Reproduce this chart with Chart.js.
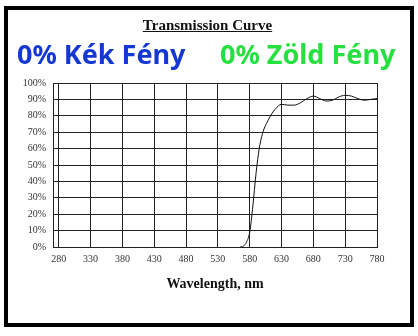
<!DOCTYPE html>
<html>
<head>
<meta charset="utf-8">
<script src="https://cdn.jsdelivr.net/npm/chart.js@4"></script>
<style>
  html, body { margin: 0; padding: 0; background: #fff; }
  body { width: 418px; height: 336px; position: relative; overflow: hidden; }
  #chart { position: absolute; left: 0; top: 0; }
  .frame { position: absolute; left: 4px; top: 6px; width: 410px; height: 321px; box-sizing: border-box; border: 4px solid #000; }
  .title { position: absolute; left: 0; width: 415px; top: 17px; text-align: center; font: bold 15px "Liberation Serif", serif; text-decoration: underline; color: #111; }
  .big { position: absolute; top: 40px; font: bold 27px/27px "Noto Sans", sans-serif; white-space: nowrap; }
  .blue { left: 17px; color: #1638d2; }
  .green { left: 220px; color: #25e03f; }
</style>
</head>
<body>
<canvas id="chart" width="418" height="336"></canvas>
<div class="frame"></div>
<div class="title">Transmission Curve</div>
<div class="big blue">0% Kék Fény</div>
<div class="big green">0% Zöld Fény</div>
<script>
const wavelengths = [565, 570, 575, 580, 585, 590, 595, 600, 610, 620, 630, 640, 650, 660, 670, 680, 690, 700, 710, 720, 730, 740, 750, 760, 770, 780]
const transmission = [0, 0.5, 3, 9, 25, 45, 60, 69, 78, 84, 87, 86.5, 86.5, 88, 90.5, 92, 90.5, 89, 89.5, 91.5, 92.5, 92, 90.5, 89.5, 90, 90.5]
const xTicks = [280, 330, 380, 430, 480, 530, 580, 630, 680, 730, 780]
const yTicks = [0, 10, 20, 30, 40, 50, 60, 70, 80, 90, 100]

let points = wavelengths.map((w, i) => ({ x: w, y: transmission[i] }))

const tickFont = { family: '"Liberation Serif", serif', size: 10 }

new Chart(document.getElementById('chart'), {
    type: 'line',
    data: {
        datasets: [{
            data: points,
            borderColor: '#111',
            borderWidth: 1,
            pointRadius: 0,
            cubicInterpolationMode: 'monotone',
            fill: false,
        }],
    },
    options: {
        responsive: false,
        animation: false,
        events: [],
        layout: { padding: { left: 13, top: 83, right: 41, bottom: 39 } },
        plugins: { legend: { display: false }, tooltip: { enabled: false } },
        scales: {
            x: {
                type: 'linear',
                min: 271,
                max: 780,
                afterBuildTicks(scale) {
                    scale.ticks = xTicks.map(v => ({ value: v }))
                },
                afterFit(scale) { scale.height = 50 },
                grid: { color: '#222', lineWidth: 1, drawTicks: false },
                border: { color: '#222', width: 1 },
                ticks: { font: tickFont, color: '#333', padding: 6, maxRotation: 0, autoSkip: false },
                title: {
                    display: true,
                    text: 'Wavelength, nm',
                    font: { family: '"Liberation Serif", serif', size: 14, weight: 'bold' },
                    color: '#111',
                },
            },
            y: {
                min: 0,
                max: 100,
                afterBuildTicks(scale) {
                    scale.ticks = yTicks.map(v => ({ value: v }))
                },
                afterFit(scale) { scale.width = 40 },
                grid: { color: '#222', lineWidth: 1, drawTicks: false },
                border: { color: '#222', width: 1 },
                ticks: { font: tickFont, color: '#333', padding: 7, callback: v => v + '%' },
            },
        },
    },
})
</script>
</body>
</html>
